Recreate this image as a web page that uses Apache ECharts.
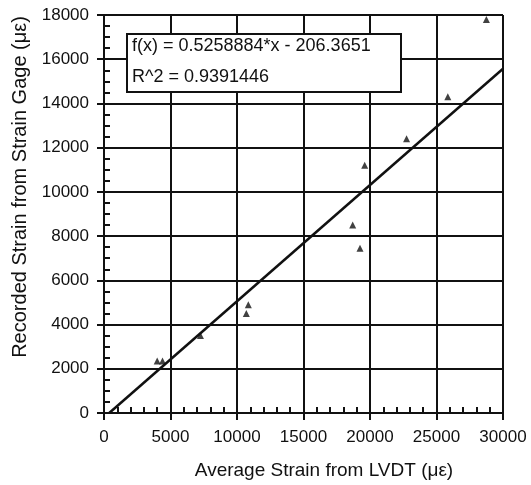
<!DOCTYPE html>
<html>
<head>
<meta charset="utf-8">
<script src="https://cdn.jsdelivr.net/npm/echarts@6/dist/echarts.min.js"></script>
<style>
  html, body { margin: 0; padding: 0; background: #fff; }
  #chart { width: 531px; height: 485px; }
</style>
</head>
<body>
<div id="chart"></div>
<script>
// measured points (average LVDT strain vs strain gage reading)
const lvdtStrain = [4000, 4400, 7250, 10700, 10850, 18700, 19250, 19600, 22750, 25850, 28750];
const gageStrain = [2350, 2350, 3500, 4500, 4900, 8500, 7450, 11200, 12400, 14300, 17800];

// ends of the fitted line
const fitX = [392, 30000];
const fitY = [0, 15570];

const fitText = ['f(x) = 0.5258884*x - 206.3651', 'R^2 = 0.9391446'];

const FONT = 'Liberation Sans, Arial, sans-serif';
const INK = '#111';

const chart = echarts.init(document.getElementById('chart'));

const points = lvdtStrain.map((x, i) => [x, gageStrain[i]]);
const fitLine = fitX.map((x, i) => [x, fitY[i]]);

// second axis on each side only carries the outward major ticks
function stubAxis(min, max, interval, position) {
  return {
    type: 'value',
    position: position,
    min: min,
    max: max,
    interval: interval,
    axisLine: { show: true, lineStyle: { color: 'rgba(0,0,0,0)' } },
    axisTick: { show: true, length: 7, lineStyle: { color: INK, width: 2 } },
    axisLabel: { show: false },
    splitLine: { show: false }
  };
}

chart.setOption({
  animation: false,
  grid: { left: 104, right: 28, top: 15, bottom: 72 },
  xAxis: [
    {
      type: 'value',
      min: 0,
      max: 30000,
      interval: 5000,
      name: 'Average Strain from LVDT (με)',
      nameLocation: 'middle',
      nameGap: 48,
      nameTextStyle: { fontFamily: FONT, fontSize: 19, color: INK, padding: [0, 0, 0, 41] },
      axisLine: { show: true, lineStyle: { color: INK, width: 2 } },
      axisTick: { show: true, inside: true, length: 6, lineStyle: { color: INK, width: 2 } },
      minorTick: { show: true, splitNumber: 5, length: 6, lineStyle: { color: INK, width: 2 } },
      axisLabel: { margin: 16, fontFamily: FONT, fontSize: 17, color: INK, formatter: v => String(v) },
      splitLine: { show: true, lineStyle: { color: INK, width: 2 } }
    },
    stubAxis(0, 30000, 5000, 'bottom')
  ],
  yAxis: [
    {
      type: 'value',
      min: 0,
      max: 18000,
      interval: 2000,
      name: 'Recorded Strain from Strain Gage (με)',
      nameLocation: 'middle',
      nameGap: 73,
      nameTextStyle: { fontFamily: FONT, fontSize: 20, color: INK, padding: [0, 0, 0, 54] },
      axisLine: { show: true, lineStyle: { color: INK, width: 2 } },
      axisTick: { show: true, inside: true, length: 6, lineStyle: { color: INK, width: 2 } },
      minorTick: { show: true, splitNumber: 4, length: 6, lineStyle: { color: INK, width: 2 } },
      axisLabel: { margin: 15, fontFamily: FONT, fontSize: 17, color: INK, formatter: v => String(v) },
      splitLine: { show: true, lineStyle: { color: INK, width: 2 } }
    },
    stubAxis(0, 18000, 2000, 'left')
  ],
  series: [
    {
      type: 'line',
      data: fitLine,
      symbol: 'none',
      lineStyle: { color: INK, width: 2.5 },
      z: 3
    },
    {
      type: 'scatter',
      data: points,
      symbol: 'triangle',
      symbolSize: 7,
      itemStyle: { color: INK },
      z: 4
    }
  ],
  graphic: [
    {
      type: 'rect',
      left: 126,
      top: 33,
      z: 100,
      shape: { width: 274, height: 58 },
      style: { fill: '#fff', stroke: INK, lineWidth: 2 }
    },
    {
      type: 'text',
      left: 132,
      top: 37,
      z: 101,
      style: { text: fitText[0], fontFamily: FONT, fontSize: 18, fill: INK }
    },
    {
      type: 'text',
      left: 132,
      top: 68,
      z: 101,
      style: { text: fitText[1], fontFamily: FONT, fontSize: 18, fill: INK }
    }
  ]
});
</script>
</body>
</html>
